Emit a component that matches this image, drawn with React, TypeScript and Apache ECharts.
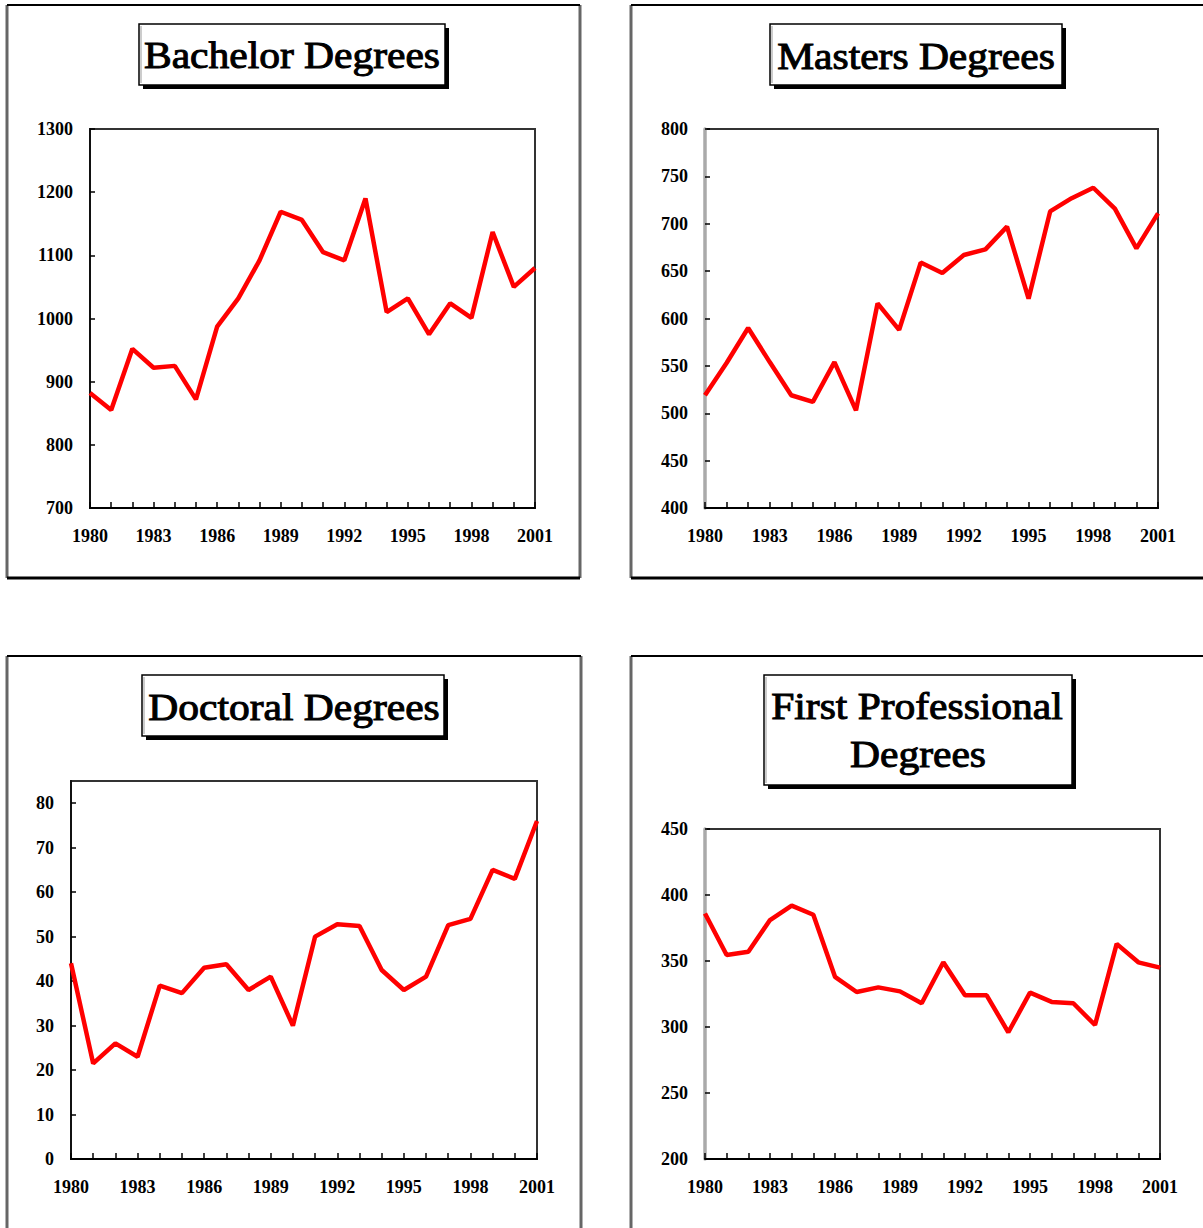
import React, { useEffect, useRef } from "react";
import * as echarts from "echarts";

const years = ["1980","1981","1982","1983","1984","1985","1986","1987","1988","1989","1990","1991","1992","1993","1994","1995","1996","1997","1998","1999","2000","2001"];
const bachelor = [882,855,952,922,925,872,987,1032,1092,1169,1156,1105,1092,1190,1010,1032,975,1024,1001,1137,1050,1080];
const masters = [519,553,590,554,519,512,554,503,616,588,659,648,667,673,697,621,713,727,738,716,674,711];
const doctoral = [44,21.5,26,23,39,37.3,43,43.8,38,41,30,50,52.8,52.4,42.5,38,41,52.6,54,65,63,76];
const firstProf = [386,354.5,357,381,392,385,338,326.5,330,327,318,349,324,324,296,326,319,318,301.5,363,349,345];

const titles = ["Bachelor Degrees", "Masters Degrees", "Doctoral Degrees", "First Professional", "Degrees"];
const yMins = [700, 400, 0, 200];
const yMaxs = [1300, 800, 85, 450];
const yIntervals = [100, 50, 10, 50];

const FONT = '"Liberation Serif", "Times New Roman", serif';

const grids = [
  { left: 90, top: 129, width: 445, height: 379 },
  { left: 705, top: 129, width: 453, height: 379 },
  { left: 71, top: 781, width: 466, height: 378 },
  { left: 705, top: 829, width: 455, height: 330 },
];

const panels = [
  { x1: 7, y1: 5, x2: 580, y2: 578 },
  { x1: 631, y1: 5, x2: 1212, y2: 578 },
  { x1: 7, y1: 656, x2: 581, y2: 1240 },
  { x1: 631, y1: 656, x2: 1212, y2: 1240 },
];

const boxes = [
  { x: 139, y: 24, w: 306, h: 61 },
  { x: 770, y: 24, w: 292, h: 61 },
  { x: 142, y: 675, w: 302, h: 61 },
  { x: 764, y: 675, w: 308, h: 110 },
];

const titleTexts = [
  { t: 0, x: 292, y: 55 },
  { t: 1, x: 916, y: 56 },
  { t: 2, x: 294, y: 707 },
  { t: 3, x: 917, y: 706 },
  { t: 4, x: 918, y: 754 },
];

export default function App() {
  const ref = useRef<HTMLDivElement>(null);
  useEffect(() => {
    if (!ref.current) return;
    const chart = echarts.init(ref.current, null, { renderer: "svg" });
    const seriesData = [bachelor, masters, doctoral, firstProf];

    const graphic: any[] = [];
    panels.forEach((p) => {
      graphic.push({ type: "line", shape: { x1: p.x1, y1: p.y1, x2: p.x1, y2: p.y2 }, style: { stroke: "#666", lineWidth: 3 } });
      graphic.push({ type: "line", shape: { x1: p.x2, y1: p.y1, x2: p.x2, y2: p.y2 }, style: { stroke: "#666", lineWidth: 3 } });
      graphic.push({ type: "line", shape: { x1: p.x1, y1: p.y1, x2: p.x2, y2: p.y1 }, style: { stroke: "#000", lineWidth: 2 } });
      graphic.push({ type: "line", shape: { x1: p.x1, y1: p.y2, x2: p.x2, y2: p.y2 }, style: { stroke: "#000", lineWidth: 3 } });
    });
    boxes.forEach((b) => {
      graphic.push({ type: "rect", shape: { x: b.x + 4, y: b.y + 4, width: b.w, height: b.h }, style: { fill: "#000" } });
      graphic.push({ type: "rect", shape: { x: b.x, y: b.y, width: b.w, height: b.h }, style: { fill: "#fff", stroke: "#000", lineWidth: 1.5 } });
      graphic.push({ type: "line", shape: { x1: b.x + 2, y1: b.y + 2, x2: b.x + 2, y2: b.y + b.h - 2 }, style: { stroke: "#bbb", lineWidth: 1.5 } });
    });
    titleTexts.forEach((tt) => {
      graphic.push({
        type: "text",
        x: tt.x,
        y: tt.y,
        scaleY: 0.92,
        style: {
          text: titles[tt.t],
          fontSize: 41.5,
          fontWeight: "normal",
          fontFamily: FONT,
          fill: "#000",
          stroke: "#000",
          lineWidth: 1.1,
          textAlign: "center",
          textVerticalAlign: "middle",
          align: "center",
          verticalAlign: "middle",
        },
      });
    });

    const labelStyle = { color: "#000", fontSize: 18, fontWeight: "bold", fontFamily: FONT };

    const option: any = {
      animation: false,
      backgroundColor: "#fff",
      graphic,
      grid: grids.map((g) => ({ ...g, show: true, borderColor: "#333", borderWidth: 2, backgroundColor: "transparent" })),
      xAxis: grids.map((_, i) => ({
        type: "category",
        gridIndex: i,
        data: years,
        boundaryGap: false,
        axisLine: { lineStyle: { color: "#000", width: 2 } },
        axisTick: { show: true, inside: true, length: 6, interval: 0, lineStyle: { color: "#000", width: 1.5 } },
        axisLabel: { ...labelStyle, interval: 2, margin: 19 },
        splitLine: { show: false },
        z: 3,
      })),
      yAxis: grids.map((_, i) => ({
        type: "value",
        gridIndex: i,
        min: yMins[i],
        max: yMaxs[i],
        interval: yIntervals[i],
        axisLine: { show: true, lineStyle: { color: i === 1 || i === 3 ? "#aaa" : "#111", width: i === 1 || i === 3 ? 3.5 : 2 } },
        axisTick: { show: true, inside: true, length: 5, lineStyle: { color: "#000", width: 1.5 } },
        axisLabel: { ...labelStyle, margin: 17, showMaxLabel: i === 2 ? false : true, formatter: (v: number) => String(v) },
        splitLine: { show: false },
        z: 3,
      })),
      series: seriesData.map((d, i) => ({
        type: "line",
        xAxisIndex: i,
        yAxisIndex: i,
        data: d,
        showSymbol: false,
        symbol: "none",
        lineStyle: { color: "#ff0000", width: 4.5 },
        z: 4,
      })),
    };
    chart.setOption(option);
    return () => chart.dispose();
  }, []);
  return (
    <div
      ref={ref}
      style={{ position: "fixed", left: 0, top: 0, width: 1203, height: 1228, background: "#fff" }}
    />
  );
}
